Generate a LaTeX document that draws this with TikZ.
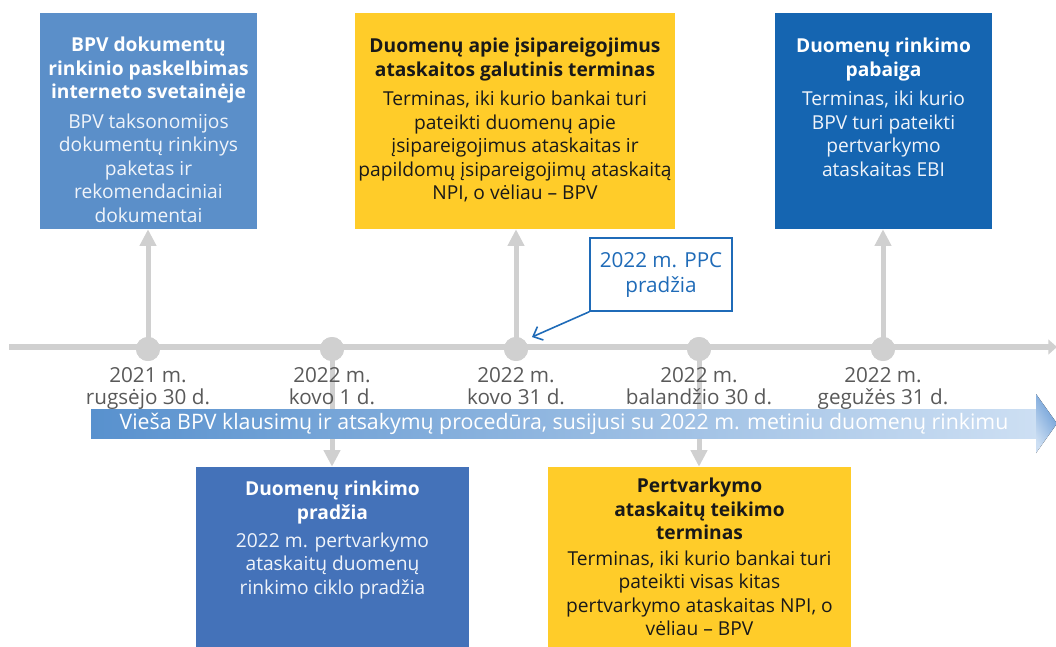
\documentclass[tikz,border=0pt]{standalone}
\usepackage{fontspec}
\setmainfont{Open Sans}
\usetikzlibrary{arrows.meta,calc}
\definecolor{boxA}{RGB}{91,143,201}
\definecolor{boxY}{RGB}{255,204,41}
\definecolor{boxD}{RGB}{21,101,177}
\definecolor{boxM}{RGB}{68,114,185}
\definecolor{lineG}{RGB}{208,208,208}
\definecolor{dateG}{RGB}{89,89,89}
\definecolor{ppcB}{RGB}{31,107,184}
\definecolor{banL}{RGB}{88,145,206}
\definecolor{banR}{RGB}{205,223,243}
\definecolor{banH}{RGB}{100,152,212}
\definecolor{bodyW}{RGB}{240,244,250}
\definecolor{txtK}{RGB}{25,25,25}
\newcommand\tb[1]{\textbf{#1}}
\newcommand\tw[1]{\textcolor{bodyW}{#1}}
\begin{document}
\begin{tikzpicture}[x=0.75pt,y=-0.75pt,
  boxshape/.style={rectangle,inner sep=0pt,draw=none},
  boxtext/.style={anchor=north,align=center,inner sep=0pt,font=\fontsize{14.4}{17.6}\selectfont},
  dot/.style={circle,fill=lineG,minimum size=18pt,inner sep=0pt},
  datelabel/.style={anchor=north,align=center,inner sep=0pt,text=dateG,font=\fontsize{15.5}{16.5}\selectfont},
  uparrow/.style={draw=lineG,line width=3.75pt,-{Triangle[length=12.5pt,width=12pt]}},
  tlarrow/.style={draw=lineG,line width=4.5pt,-{Triangle[length=6.5pt,width=11pt]}}
]
\useasboundingbox (0,0) rectangle (1056,646);
% timeline
\coordinate (tlstart) at (9,347);
\coordinate (tlend) at (1057,347);
\draw[tlarrow] (tlstart) -- (tlend);
% boxes (shapes)
\node[boxshape,fill=boxA,minimum width=162.75pt,minimum height=162pt] (b1) at (148.5,121) {};
\node[boxshape,fill=boxY,minimum width=240pt,minimum height=162pt] (b2) at (515,121) {};
\node[boxshape,fill=boxD,minimum width=162.75pt,minimum height=162pt] (b3) at (883.5,121) {};
\node[boxshape,fill=boxM,minimum width=204.75pt,minimum height=135pt] (b4) at (332.5,557) {};
\node[boxshape,fill=boxY,minimum width=227.25pt,minimum height=135pt] (b5) at (699.5,557) {};
% dots
\node[dot] (c1) at (148,349) {};
\node[dot] (c2) at (332,349) {};
\node[dot] (c3) at (516,349) {};
\node[dot] (c4) at (699,349) {};
\node[dot] (c5) at (883,349) {};
% connectors
\draw[uparrow] (c1.center) -- (c1.center |- b1.south);
\draw[uparrow] (c3.center) -- (c3.center |- b2.south);
\draw[uparrow] (c5.center) -- (c5.center |- b3.south);
\draw[uparrow] (c2.center) -- (c2.center |- b4.north);
\draw[uparrow] (c4.center) -- (c4.center |- b5.north);
\node[dot] at (c1) {};
\node[dot] at (c2) {};
\node[dot] at (c3) {};
\node[dot] at (c4) {};
\node[dot] at (c5) {};
% dates
\node[datelabel] (d1) at (148,367) {2021 m.\\rugsėjo 30 d.};
\node[datelabel] (d2) at (332,367) {2022 m.\\kovo 1 d.};
\node[datelabel] (d3) at (516,367) {2022 m.\\kovo 31 d.};
\node[datelabel] (d4) at (699,367) {2022 m.\\balandžio 30 d.};
\node[datelabel] (d5) at (883,367) {2022 m.\\gegužės 31 d.};
% banner
\fill[left color=banL,right color=banR] (91,409) rectangle (1037,438);
\fill[left color=banR,right color=banH,shading angle=120] (1036,394) -- (1057,423.5) -- (1036,453) -- cycle;
\node[text=white,font=\fontsize{16}{18}\selectfont,inner sep=0pt] (ban) at (564,424) {Vieša BPV klausimų ir atsakymų procedūra, susijusi su 2022 m. metiniu duomenų rinkimu};
% box texts
\node[boxtext,text=white] (t1) at (148.5,37) {\tb{BPV dokumentų}\\\tb{rinkinio paskelbimas}\\\tb{interneto svetainėje}\\[4.5pt]\tw{BPV taksonomijos}\\\tw{dokumentų rinkinys}\\\tw{paketas ir}\\\tw{rekomendaciniai}\\\tw{dokumentai}};
\node[boxtext,text=txtK] (t2) at (515,38) {\tb{Duomenų apie įsipareigojimus}\\\tb{ataskaitos galutinis terminas}\\[4.5pt]Terminas, iki kurio bankai turi\\pateikti duomenų apie\\įsipareigojimus ataskaitas ir\\papildomų įsipareigojimų ataskaitą\\NPI, o vėliau – BPV};
\node[boxtext,text=white] (t3) at (883.5,38) {\tb{Duomenų rinkimo}\\\tb{pabaiga}\\[4.5pt]\tw{Terminas, iki kurio}\\\tw{BPV turi pateikti}\\\tw{pertvarkymo}\\\tw{ataskaitas EBI}};
\node[boxtext,text=white] (t4) at (332.5,481) {\tb{Duomenų rinkimo}\\\tb{pradžia}\\[3.5pt]\tw{2022 m. pertvarkymo}\\\tw{ataskaitų duomenų}\\\tw{rinkimo ciklo pradžia}};
\node[boxtext,text=txtK] (t5) at (699.5,478) {\tb{Pertvarkymo}\\\tb{ataskaitų teikimo}\\\tb{terminas}\\[1.5pt]Terminas, iki kurio bankai turi\\pateikti visas kitas\\pertvarkymo ataskaitas NPI, o\\vėliau – BPV};
% callout
\node[draw=ppcB,line width=1.2pt,fill=white,text=ppcB,align=center,minimum width=106.5pt,minimum height=54.75pt,inner sep=0pt,font=\fontsize{15.5}{18.75}\selectfont] (ppc) at (661,274.5) {2022 m. PPC\\pradžia};
\coordinate (ppctip) at (532,337);
\draw[ppcB,line width=1.2pt,-{Straight Barb[length=6pt,width=11pt]}] (ppc.south west) -- (ppctip);
\end{tikzpicture}
\end{document}
